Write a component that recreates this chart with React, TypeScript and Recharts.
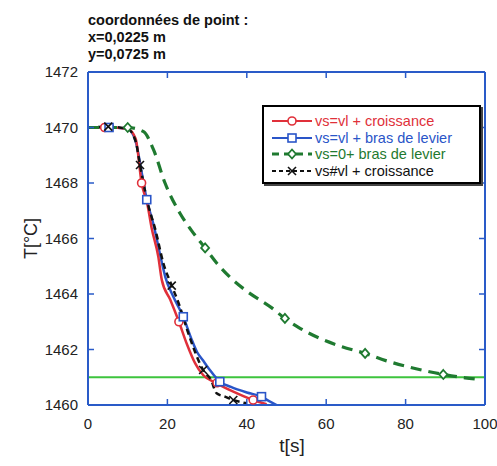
import React from "react";
import {
  ComposedChart,
  Line,
  Scatter,
  XAxis,
  YAxis,
  ReferenceLine,
} from "recharts";

// t[s], T[°C]
const redLine = [
  [0, 1470], [5, 1470], [10, 1469.95], [12, 1469.6], [13.5, 1468.0], [15, 1467.2],
  [16, 1466.4], [17.7, 1465.35], [18.6, 1464.5], [20.7, 1463.8], [22.9, 1463.0],
  [24.9, 1462.2], [27, 1461.5], [29, 1461.08], [32.4, 1460.78], [36.6, 1460.48],
  [41.6, 1460.18], [45, 1460.03],
];
const blueLine = [
  [0, 1470], [5, 1470], [10, 1469.95], [12, 1469.5], [13.5, 1468.4], [14.8, 1467.4],
  [16.5, 1466.5], [18.5, 1465.2], [19.5, 1464.6], [21.5, 1463.9], [24, 1463.18],
  [26, 1462.4], [27.5, 1461.9], [29, 1461.6], [30.5, 1461.3], [33.2, 1460.84],
  [36, 1460.65], [40, 1460.45], [43.7, 1460.3], [45.5, 1460.15], [47.5, 1460.0],
];
const blackLine = [
  [0, 1470], [5.1, 1470.03], [10, 1469.95], [12, 1469.5], [13.1, 1468.65], [15, 1467.3],
  [17, 1466.3], [19, 1465.1], [21.1, 1464.3], [23, 1463.6], [25, 1462.7], [27, 1461.9],
  [29, 1461.26], [31, 1460.9], [32.4, 1460.42], [34.5, 1460.3], [36.6, 1460.18], [40, 1460.06],
];
const greenLine = [
  [0, 1470], [5, 1470], [10, 1470], [14, 1469.85], [16.5, 1469.2], [19.4, 1468],
  [23.2, 1466.9], [26, 1466.3], [29.5, 1465.66], [32.5, 1465.1], [35.8, 1464.6],
  [40, 1464.1], [46.3, 1463.5], [49.6, 1463.12], [53, 1462.8], [58.4, 1462.4],
  [64, 1462.1], [69.8, 1461.86], [75, 1461.6], [81.1, 1461.36], [86, 1461.2],
  [89.5, 1461.1], [95, 1460.98], [98, 1460.93],
];

const redMarks = [[4.2, 1470], [13.5, 1468.0], [22.9, 1463.0], [32.5, 1460.8], [41.6, 1460.18]];
const blueMarks = [[5.3, 1470], [14.8, 1467.4], [24, 1463.18], [33.2, 1460.84], [43.7, 1460.3]];
const blackMarks = [[5.1, 1470.03], [13.1, 1468.65], [21.1, 1464.3], [29, 1461.26], [36.6, 1460.18]];
const greenMarks = [[10, 1470], [29.5, 1465.66], [49.6, 1463.12], [69.8, 1461.86], [89.5, 1461.1]];

const xTicks = [0, 20, 40, 60, 80, 100];
const yTicks = [1460, 1462, 1464, 1466, 1468, 1470, 1472];
const limitTemp = 1461;

const legendItems = [
  { label: "vs=vl + croissance", color: "#e0303a", dash: "", mark: "circle" },
  { label: "vs=vl + bras de levier", color: "#2a55c8", dash: "", mark: "square" },
  { label: "vs=0+ bras de levier", color: "#1f7a30", dash: "7 5", mark: "diamond" },
  { label: "vs#vl + croissance", color: "#111", dash: "4 3", mark: "cross" },
];

const toPts = (arr: number[][]) => arr.map(([t, T]) => ({ t, T }));

const AXIS = "#2a5bc8";
const FONT = "'Liberation Sans', Arial, sans-serif";

function Marker({ kind, cx, cy, color }: any) {
  if (cx == null || cy == null) return null;
  if (kind === "circle")
    return <circle cx={cx} cy={cy} r={4} fill="white" stroke={color} strokeWidth={1.6} />;
  if (kind === "square")
    return <rect x={cx - 4} y={cy - 4} width={8} height={8} fill="white" stroke={color} strokeWidth={1.6} />;
  if (kind === "diamond")
    return (
      <polygon
        points={`${cx},${cy - 4.5} ${cx + 4},${cy} ${cx},${cy + 4.5} ${cx - 4},${cy}`}
        fill="white"
        stroke={color}
        strokeWidth={1.8}
      />
    );
  return (
    <g stroke={color} strokeWidth={1.6}>
      <line x1={cx - 4} y1={cy - 4} x2={cx + 4} y2={cy + 4} />
      <line x1={cx - 4} y1={cy + 4} x2={cx + 4} y2={cy - 4} />
    </g>
  );
}

const BottomTick = ({ x, y, payload }: any) => (
  <g>
    <line x1={x} x2={x} y1={y} y2={y - 6} stroke={AXIS} strokeWidth={1.5} />
    <text x={x} y={y + 24} textAnchor="middle" fontSize={15} fontFamily={FONT} fill="#222">
      {payload.value}
    </text>
  </g>
);
const TopTick = ({ x, y }: any) => (
  <line x1={x} x2={x} y1={y} y2={y + 6} stroke={AXIS} strokeWidth={1.5} />
);
const LeftTick = ({ x, y, payload }: any) => (
  <g>
    <line x1={x} x2={x + 6} y1={y} y2={y} stroke={AXIS} strokeWidth={1.5} />
    <text x={x - 10} y={y + 5} textAnchor="end" fontSize={15} fontFamily={FONT} fill="#222">
      {payload.value}
    </text>
  </g>
);
const RightTick = ({ x, y }: any) => (
  <line x1={x} x2={x - 6} y1={y} y2={y} stroke={AXIS} strokeWidth={1.5} />
);

function LegendBox() {
  return (
    <div
      style={{
        position: "absolute",
        left: 262,
        top: 105,
        width: 219,
        height: 79,
        border: "2px solid #000",
        boxShadow: "2px 2px 0 #444",
        background: "white",
        fontFamily: FONT,
        fontSize: 14.5,
        padding: "6px 0 0 6px",
        boxSizing: "border-box",
        zIndex: 2,
      }}
    >
      {legendItems.map((it) => (
        <div key={it.label} style={{ display: "flex", alignItems: "center", height: 16.5 }}>
          <svg width={44} height={12} style={{ marginRight: 1 }}>
            <line
              x1={2}
              x2={42}
              y1={6}
              y2={6}
              stroke={it.color}
              strokeWidth={it.mark === "diamond" ? 3 : 2}
              strokeDasharray={it.dash}
            />
            <Marker kind={it.mark} cx={22} cy={6} color={it.color} />
          </svg>
          <span style={{ color: it.color, whiteSpace: "nowrap" }}>{it.label}</span>
        </div>
      ))}
    </div>
  );
}

export default function App() {
  return (
    <div style={{ position: "absolute", left: 0, top: 0, width: 497, height: 466, background: "white" }}>
      <div
        style={{
          position: "absolute",
          left: 88,
          top: 12,
          fontFamily: FONT,
          fontWeight: 700,
          fontSize: 14.5,
          lineHeight: "17px",
          color: "#111",
          zIndex: 2,
        }}
      >
        <div>coordonnées de point :</div>
        <div>x=0,0225 m</div>
        <div>y=0,0725 m</div>
      </div>
      <div
        style={{
          position: "absolute",
          left: 6,
          top: 228,
          width: 50,
          textAlign: "center",
          transform: "rotate(-90deg)",
          fontFamily: FONT,
          fontSize: 18,
          color: "#222",
          zIndex: 2,
        }}
      >
        T[°C]
      </div>
      <div
        style={{
          position: "absolute",
          left: 262,
          top: 435,
          width: 60,
          textAlign: "center",
          fontFamily: FONT,
          fontSize: 19,
          color: "#222",
          zIndex: 2,
        }}
      >
        t[s]
      </div>
      <LegendBox />
      <ComposedChart width={497} height={466} margin={{ top: 71, right: 11, bottom: 31, left: 0 }}>
        <XAxis
          xAxisId="b"
          dataKey="t"
          type="number"
          domain={[0, 100]}
          ticks={xTicks}
          height={30}
          tickSize={0}
          tickMargin={0}
          axisLine={{ stroke: AXIS, strokeWidth: 2 }}
          tickLine={false}
          tick={<BottomTick />}
          interval={0}
          allowDataOverflow
        />
        <XAxis
          xAxisId="top"
          orientation="top"
          dataKey="t"
          type="number"
          domain={[0, 100]}
          ticks={xTicks}
          height={1}
          tickSize={0}
          tickMargin={0}
          axisLine={{ stroke: AXIS, strokeWidth: 2 }}
          tickLine={false}
          tick={<TopTick />}
          interval={0}
          allowDataOverflow
        />
        <YAxis
          yAxisId="l"
          type="number"
          domain={[1460, 1472]}
          ticks={yTicks}
          width={88}
          tickSize={0}
          tickMargin={0}
          axisLine={{ stroke: AXIS, strokeWidth: 2 }}
          tickLine={false}
          tick={<LeftTick />}
          interval={0}
          allowDataOverflow
        />
        <YAxis
          yAxisId="r"
          orientation="right"
          type="number"
          domain={[1460, 1472]}
          ticks={yTicks}
          width={1}
          tickSize={0}
          tickMargin={0}
          axisLine={{ stroke: AXIS, strokeWidth: 2 }}
          tickLine={false}
          tick={<RightTick />}
          interval={0}
          allowDataOverflow
        />
        <ReferenceLine xAxisId="b" yAxisId="l" y={limitTemp} stroke="#3ec43e" strokeWidth={2} />
        <Line xAxisId="b" yAxisId="l" data={toPts(blueLine)} dataKey="T" type="monotone" stroke="#2a55c8" strokeWidth={2.5} dot={false} isAnimationActive={false} />
        <Line xAxisId="b" yAxisId="l" data={toPts(redLine)} dataKey="T" type="monotone" stroke="#e0303a" strokeWidth={2.5} dot={false} isAnimationActive={false} />
        <Line xAxisId="b" yAxisId="l" data={toPts(blackLine)} dataKey="T" type="monotone" stroke="#111" strokeWidth={2.5} strokeDasharray="6 4" dot={false} isAnimationActive={false} />
        <Line xAxisId="b" yAxisId="l" data={toPts(greenLine)} dataKey="T" type="monotone" stroke="#1f7a30" strokeWidth={3.2} strokeDasharray="11 7" dot={false} isAnimationActive={false} />
        <Scatter xAxisId="b" yAxisId="l" data={toPts(redMarks)} dataKey="T" isAnimationActive={false} shape={(p: any) => <Marker kind="circle" cx={p.cx} cy={p.cy} color="#e0303a" />} />
        <Scatter xAxisId="b" yAxisId="l" data={toPts(blueMarks)} dataKey="T" isAnimationActive={false} shape={(p: any) => <Marker kind="square" cx={p.cx} cy={p.cy} color="#2a55c8" />} />
        <Scatter xAxisId="b" yAxisId="l" data={toPts(greenMarks)} dataKey="T" isAnimationActive={false} shape={(p: any) => <Marker kind="diamond" cx={p.cx} cy={p.cy} color="#1f7a30" />} />
        <Scatter xAxisId="b" yAxisId="l" data={toPts(blackMarks)} dataKey="T" isAnimationActive={false} shape={(p: any) => <Marker kind="cross" cx={p.cx} cy={p.cy} color="#111" />} />
      </ComposedChart>
    </div>
  );
}
